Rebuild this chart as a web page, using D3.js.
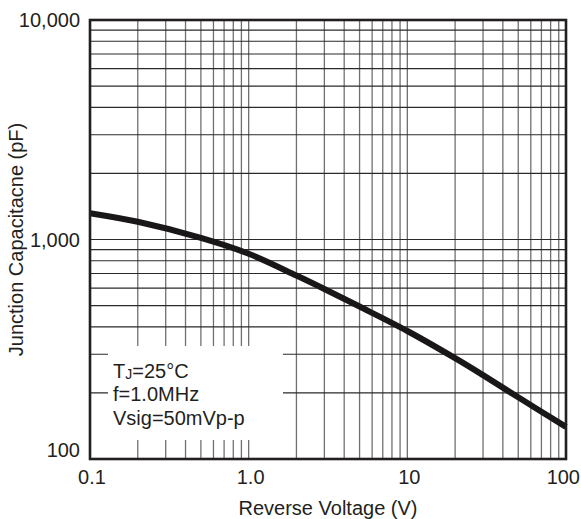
<!DOCTYPE html>
<html><head><meta charset="utf-8">
<script src="https://cdn.jsdelivr.net/npm/d3@7"></script>
<style>
html,body{margin:0;padding:0;background:#fff;}
text{font-family:"Liberation Sans",Arial,sans-serif;fill:#231f20;}
</style></head>
<body><svg id="c" width="581" height="519"></svg>
<script>
// Data
const voltage = [0.1, 0.2, 0.5, 1.0, 2.0, 3.0, 5.0, 10, 20, 30, 50, 100];
const capacitance = [1318, 1204, 1017, 861, 685, 595, 495, 383, 288, 241, 191, 140];
const xTickValues = [0.1, 1, 10, 100];
const xTickLabels = ["0.1", "1.0", "10", "100"];
const yTickValues = [100, 1000, 10000];
const yTickLabels = ["100", "1,000", "10,000"];
const legendLines = ["f=1.0MHz", "Vsig=50mVp-p"];
const xTitle = "Reverse Voltage (V)";
const yTitle = "Junction Capacitacne (pF)";

const svg = d3.select("#c");
const L = 90, R = 566, T = 20, B = 459;
const x = d3.scaleLog().domain([0.1, 100]).range([L, R]);
const y = d3.scaleLog().domain([100, 10000]).range([B, T]);

const xMinor = [], yMinor = [];
[0.1, 1, 10].forEach(d => { for (let k = 2; k <= 9; k++) xMinor.push(+(d * k).toPrecision(3)); });
[100, 1000].forEach(d => { for (let k = 2; k <= 9; k++) yMinor.push(d * k); });

const g = svg.append("g");
g.selectAll("line.v").data(xMinor.concat([1, 10])).enter().append("line")
  .attr("x1", d => x(d)).attr("x2", d => x(d)).attr("y1", T).attr("y2", B)
  .attr("stroke", "#707070").attr("stroke-width", 1.3);
g.selectAll("line.h").data(yMinor.concat([1000])).enter().append("line")
  .attr("y1", d => y(d)).attr("y2", d => y(d)).attr("x1", L).attr("x2", R)
  .attr("stroke", "#2a2a2a").attr("stroke-width", 1.2);

// legend background
svg.append("rect").attr("x", 108).attr("y", 346).attr("width", 175).attr("height", 94).attr("fill", "#fff");

// curve
const line = d3.line().x((d, i) => x(voltage[i])).y(d => y(d)).curve(d3.curveCatmullRom.alpha(0.5));
svg.append("path").datum(capacitance).attr("d", line)
  .attr("fill", "none").attr("stroke", "#1a1718").attr("stroke-width", 6).attr("stroke-linecap", "butt");

// frame
svg.append("rect").attr("x", L).attr("y", T).attr("width", R - L).attr("height", B - T)
  .attr("fill", "none").attr("stroke", "#231f20").attr("stroke-width", 2.6);

// x tick labels
const nX = xTickValues.length;
svg.selectAll("text.xt").data(xTickValues).enter().append("text")
  .attr("x", (d, i) => i === nX - 1 ? 580 : x(d) + 2)
  .attr("y", 484).attr("text-anchor", (d, i) => i === nX - 1 ? "end" : "middle")
  .attr("font-size", 20).text((d, i) => xTickLabels[i]);
// y tick labels
svg.selectAll("text.yt").data(yTickValues).enter().append("text")
  .attr("x", 80).attr("y", d => d === 100 ? 456.5 : y(d) + 7.3).attr("text-anchor", "end")
  .attr("font-size", 20).text((d, i) => yTickLabels[i]);

// axis titles
svg.append("text").attr("x", (L + R) / 2).attr("y", 515).attr("text-anchor", "middle")
  .attr("font-size", 20).text(xTitle);
svg.append("text").attr("transform", `translate(23,${(T + B) / 2}) rotate(-90)`)
  .attr("text-anchor", "middle").attr("font-size", 20).text(yTitle);

// legend text
const t1 = svg.append("text").attr("x", 113).attr("y", 377.5).attr("font-size", 20);
t1.append("tspan").text("T");
t1.append("tspan").attr("font-size", 14).attr("dy", 1).text("J");
t1.append("tspan").attr("dy", -1).text("=25°C");
svg.selectAll("text.lg").data(legendLines).enter().append("text")
  .attr("x", 113).attr("y", (d, i) => 401 + i * 23.5).attr("font-size", 20).text(d => d);
</script></body></html>
